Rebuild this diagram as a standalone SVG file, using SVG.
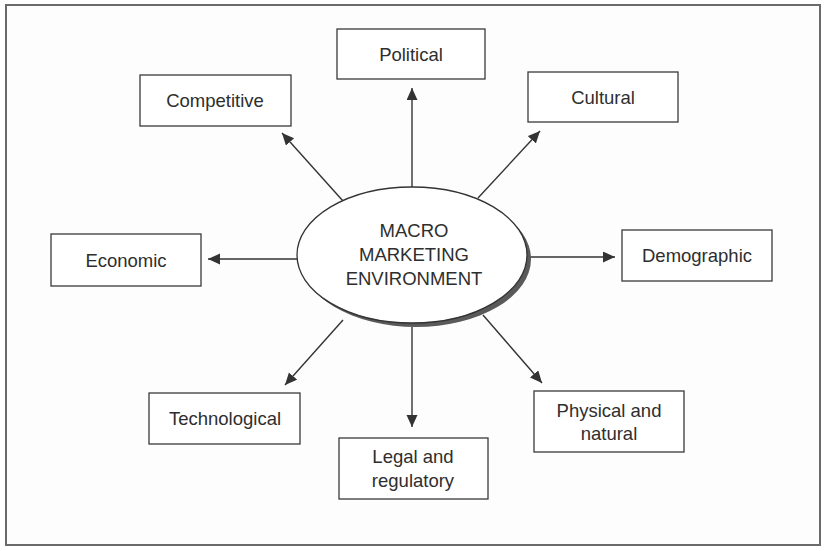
<svg xmlns="http://www.w3.org/2000/svg" width="828" height="551" viewBox="0 0 828 551">
<style>
.box{fill:#fff;stroke:#3a3a3a;stroke-width:1.3}
.lbl{font-family:"Liberation Sans",Arial,sans-serif;font-size:18.5px;fill:#2e2e2e;text-anchor:middle}
.conn{stroke:#333;stroke-width:1.4;fill:none;marker-end:url(#ah)}
</style>
<defs>
<marker id="ah" markerUnits="userSpaceOnUse" markerWidth="14" markerHeight="12" refX="12" refY="5.5" orient="auto">
<path d="M0,0 L12,5.5 L0,11 Z" fill="#333"/>
</marker>
</defs>
<rect x="0" y="0" width="828" height="551" fill="#fff"/>
<rect x="6" y="5" width="814" height="540" fill="#fdfdfd" stroke="#6a6a6a" stroke-width="2"/>
<g id="connectors">
<line class="conn" x1="412" y1="187" x2="412" y2="88"/>
<line class="conn" x1="343" y1="201" x2="282" y2="133"/>
<line class="conn" x1="478" y1="198" x2="540" y2="131"/>
<line class="conn" x1="528" y1="257" x2="615" y2="257"/>
<line class="conn" x1="298" y1="259" x2="208" y2="259"/>
<line class="conn" x1="343" y1="320" x2="285" y2="385"/>
<line class="conn" x1="412" y1="327" x2="412" y2="427"/>
<line class="conn" x1="483" y1="315" x2="542" y2="383"/>
</g>
<g id="center">
<ellipse cx="416" cy="259" rx="115" ry="68" fill="#5a5a5a"/>
<ellipse cx="412" cy="255" rx="115" ry="68" fill="#fff" stroke="#333" stroke-width="1.3"/>
<text class="lbl" x="414" y="237">MACRO</text>
<text class="lbl" x="414" y="261">MARKETING</text>
<text class="lbl" x="414" y="285">ENVIRONMENT</text>
</g>
<g id="political"><rect class="box" x="337" y="29" width="148" height="50"/><text class="lbl" x="411" y="61">Political</text></g>
<g id="competitive"><rect class="box" x="140" y="75" width="151" height="51"/><text class="lbl" x="215" y="107">Competitive</text></g>
<g id="cultural"><rect class="box" x="528" y="72" width="150" height="50"/><text class="lbl" x="603" y="104">Cultural</text></g>
<g id="demographic"><rect class="box" x="622" y="230" width="150" height="51"/><text class="lbl" x="697" y="262">Demographic</text></g>
<g id="economic"><rect class="box" x="51" y="234" width="150" height="52"/><text class="lbl" x="126" y="267">Economic</text></g>
<g id="technological"><rect class="box" x="149" y="393" width="151" height="51"/><text class="lbl" x="225" y="425">Technological</text></g>
<g id="legal"><rect class="box" x="339" y="438" width="149" height="61"/><text class="lbl" x="413" y="463">Legal and</text><text class="lbl" x="413" y="487">regulatory</text></g>
<g id="physical"><rect class="box" x="534" y="391" width="150" height="61"/><text class="lbl" x="609" y="417">Physical and</text><text class="lbl" x="609" y="440">natural</text></g>
</svg>
